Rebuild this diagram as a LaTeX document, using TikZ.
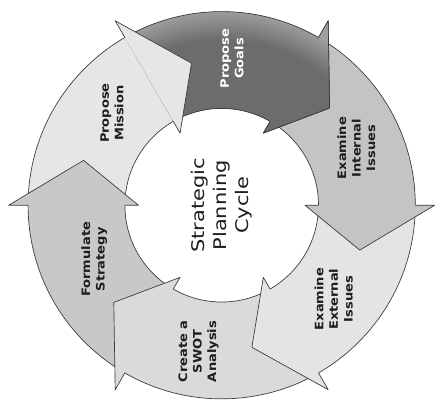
\documentclass[tikz,border=0pt]{standalone}
\usepackage{fontspec}
\setmainfont{DejaVu Sans}
\newfontfamily\stepfont[FakeStretch=1.12]{DejaVu Sans}
\newfontfamily\hubfont[FakeStretch=1.2]{DejaVu Sans}
\definecolor{missionfill}{HTML}{E6E6E6}
\definecolor{goalsfill}{HTML}{6C6C6C}
\definecolor{goalsouter}{HTML}{A0A0A0}
\definecolor{internalfill}{HTML}{C4C4C4}
\definecolor{externalfill}{HTML}{E4E4E4}
\definecolor{swotfill}{HTML}{DADADA}
\definecolor{strategyfill}{HTML}{C8C8C8}
\definecolor{edgeline}{HTML}{3A3A3A}
\definecolor{labeltext}{HTML}{1E1E1E}
\pgfdeclareradialshading{goalsglow}{\pgfpoint{0bp}{0bp}}{color(0bp)=(goalsfill);
  color(19bp)=(goalsfill); color(22.5bp)=(goalsouter); color(25bp)=(goalsouter)}

\begin{document}
\begin{tikzpicture}[x=1pt, y=1pt,
  rim/.style={draw=edgeline, line width=0.7pt, line join=round},
  steplabel/.style={rotate=90, align=center, text=labeltext,
    font=\stepfont\bfseries\fontsize{12}{15}\selectfont},
  hublabel/.style={rotate=90, align=center, text=labeltext,
    font=\hubfont\fontsize{18}{22.5}\selectfont}]
  % page
  \fill[white] (-229,-206) rectangle (206,212);
  % ring bodies, tail at b+60, head base at b
  \foreach \b/\col in {120/missionfill, 60/goalsfill, 0/internalfill,
      -60/externalfill, -120/swotfill, 180/strategyfill}
    \fill[\col] (\b+60:100) arc[start angle=\b+60, end angle=\b-2, radius=100pt]
      -- (\b-2:200) arc[start angle=\b-2, end angle=\b+60, radius=200pt] -- cycle;
  % dark band of the goals step
  \begin{scope}
    \clip (120:100) arc[start angle=120, end angle=58, radius=100pt]
      -- (58:200) arc[start angle=58, end angle=120, radius=200pt] -- cycle;
    \shade[shading=goalsglow] (0,0) circle[radius=225pt];
  \end{scope}
  % rims
  \draw[rim] (0,0) circle[radius=100pt];
  \draw[rim] (0,0) circle[radius=200pt];
  % heads
  \foreach \b/\col in {120/missionfill, 60/goalsfill, 0/internalfill,
      -60/externalfill, -120/swotfill, 180/strategyfill}{
    \fill[\col] (\b:86) -- (\b:220) -- (\b-18:150) -- cycle;
    \draw[rim] (\b:200) -- (\b:220) -- (\b-18:150) -- (\b:86) -- (\b:100);
  }
  \begin{scope}
    \clip (60:86) -- (60:220) -- (42:150) -- cycle;
    \shade[shading=goalsglow] (0,0) circle[radius=225pt];
  \end{scope}
  \draw[rim] (60:200) -- (60:220) -- (42:150) -- (60:86) -- (60:100);
  % labels
  \node[steplabel] (mission) at (140:148) {Propose\\Mission};
  \node[steplabel, text=white] (goals) at (86:152) {Propose\\Goals};
  \node[steplabel] (internal) at (23:151) {Examine\\Internal\\Issues};
  \node[steplabel] (external) at (-40:151) {Examine\\External\\Issues};
  \node[steplabel] (swot) at (-99:153) {Create a\\SWOT\\Analysis};
  \node[steplabel] (strategy) at (-157:143) {Formulate\\Strategy};
  \node[hublabel] (hub) at (0,0) {Strategic\\Planning\\Cycle};
\end{tikzpicture}
\end{document}
